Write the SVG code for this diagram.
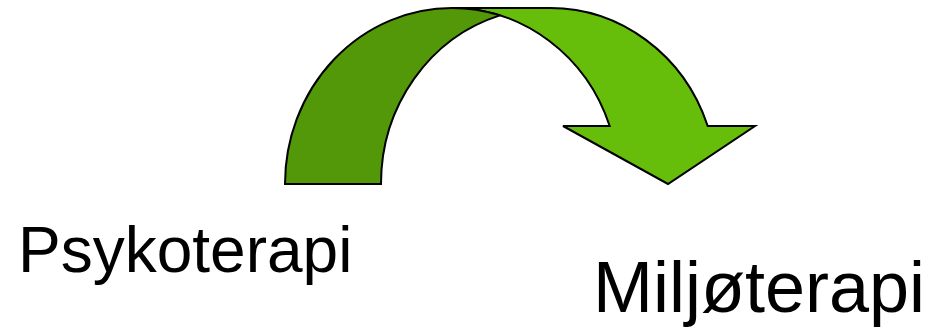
<svg xmlns="http://www.w3.org/2000/svg" width="942" height="330" viewBox="0 0 942 330">
<style>
.band{stroke:#000;stroke-width:2;stroke-linejoin:miter}
.dark{fill:#529808}
.light{fill:#66BE0B}
.lbl{font-family:"Liberation Sans",Arial,sans-serif;fill:#000}
</style>
<rect width="942" height="330" fill="#fff"/>
<g id="connectors">
<g id="curved-arrow">
<path class="band light" d="M452,8 L548,8 A167,176 0 0 1 707.7,126 L755,126 L668,184 L563,126 L609.7,126 A167,176 0 0 0 452,8 Z"/>
<path class="band dark" d="M285,184 A167,176 0 0 1 452,8 A167,176 0 0 1 500,15.4 A167,176 0 0 0 381,184 Z"/>
</g>
</g>
<g id="node-psykoterapi">
<text class="lbl" x="18" y="272" font-size="64">Psykoterapi</text>
</g>
<g id="node-miljoterapi">
<text class="lbl" x="593" y="312" font-size="72">Miljøterapi</text>
</g>
</svg>
